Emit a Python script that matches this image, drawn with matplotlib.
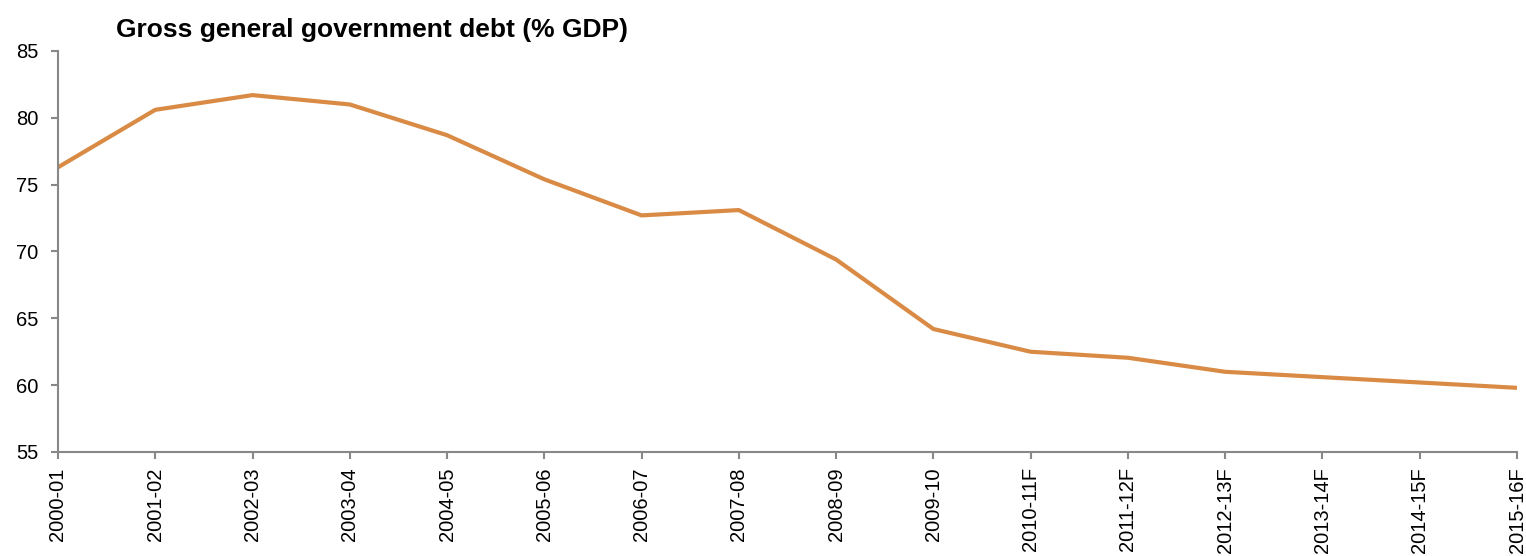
import matplotlib
matplotlib.use("Agg")
import matplotlib.pyplot as plt

plt.rcParams['font.family'] = ['Liberation Sans', 'DejaVu Sans']

years = ["2000-01", "2001-02", "2002-03", "2003-04", "2004-05", "2005-06",
         "2006-07", "2007-08", "2008-09", "2009-10", "2010-11F", "2011-12F",
         "2012-13F", "2013-14F", "2014-15F", "2015-16F"]
debt = [76.3, 80.6, 81.7, 81.0, 78.7, 75.4, 72.7, 73.1, 69.4, 64.2,
        62.5, 62.05, 61.0, 60.6, 60.2, 59.8]

fig = plt.figure(figsize=(15.26, 5.56), dpi=100)
ax = fig.add_axes([58 / 1526, 1 - 452 / 556, (1517 - 58) / 1526, (452 - 51) / 556])

x = range(len(years))
ax.plot(x, debt, color="#D98B45", linewidth=3, solid_capstyle="butt")

ax.set_xlim(0, len(years) - 1)
ax.set_ylim(55, 85)
ax.set_yticks([55, 60, 65, 70, 75, 80, 85])
ax.set_xticks(list(x))
ax.set_xticklabels(years, rotation=90)

for s in ["top", "right"]:
    ax.spines[s].set_visible(False)
for s in ["left", "bottom"]:
    ax.spines[s].set_color("#888888")
    ax.spines[s].set_linewidth(1.5)
ax.tick_params(axis="both", colors="#888888", labelcolor="black",
               length=5, width=1.5, labelsize=14.5)
ax.tick_params(axis="x", pad=6)
ax.tick_params(axis="y", pad=9)

fig.text(116 / 1526, 1 - 30 / 556, "Gross general government debt (% GDP)",
         fontsize=19, fontweight="bold", va="center", ha="left")

fig.savefig("out.png", dpi=100)
